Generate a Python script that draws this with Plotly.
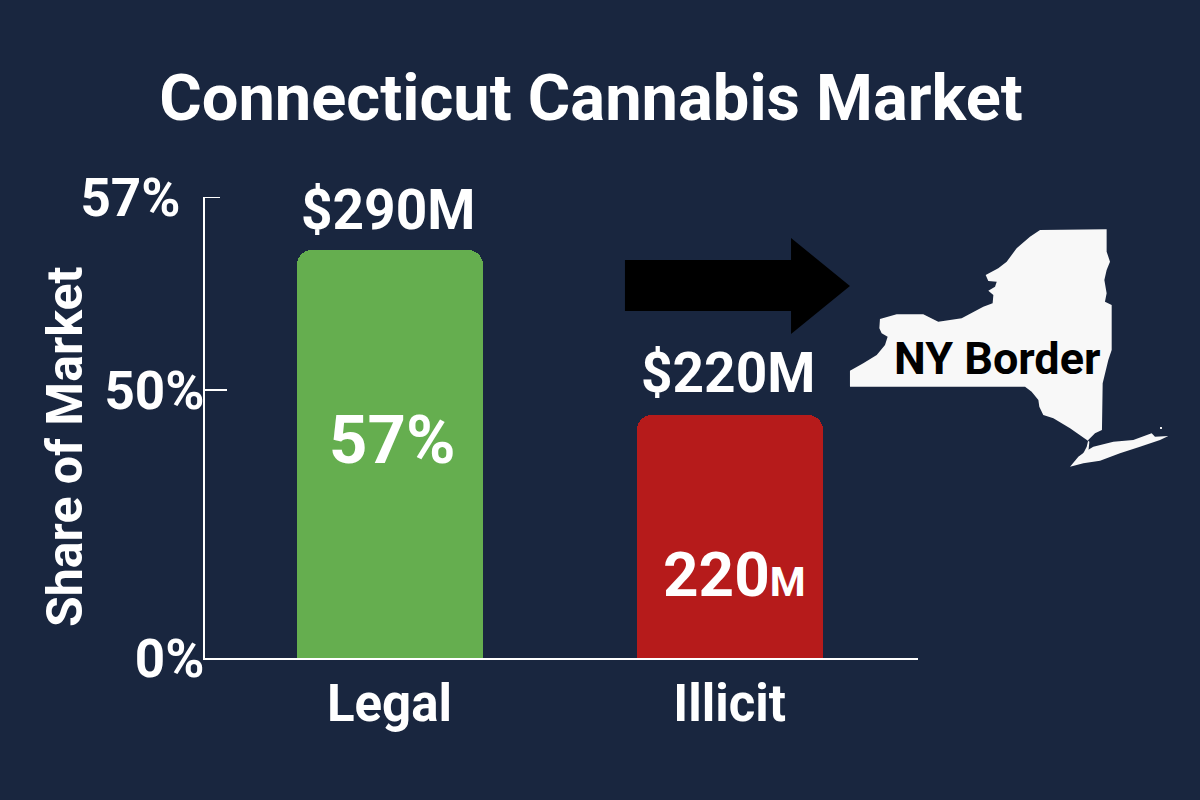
import plotly.graph_objects as go

categories = ['Legal', 'Illicit']
# the reference axis is not linear (57% sits far above 50%), so heights are in
# units where 50 lands on the "50%" tick and the top tick is drawn at 86
bar_heights = [76.1, 45.3]
bar_colors = ['#65AE4F', '#B61B1B']
top_labels = ['$290M', '$220M']
inner_labels = ['57%', '220<span style="font-size:41px">M</span>']
tick_vals = [0, 50, 86]
tick_text = ['0%', '50%', '57%\u00a0\u2009']

BG = '#19263F'
FONT = 'Roboto'


def px(x):
    return x / 1200


def py(y):
    return 1 - y / 800


def zoom_path(points):
    pts = [(px(840 + a / 3), py(220 + b / 3)) for a, b in points]
    return 'M ' + ' L '.join(f'{a:.4f},{b:.4f}' for a, b in pts) + ' Z'


ny_main = [(600, 30), (800, 28), (800, 95), (810, 125), (800, 150), (793, 180), (800, 220), (795, 245),
           (815, 255), (815, 390), (805, 420), (788, 490), (786, 630), (765, 640), (745, 660), (740, 680),
           (722, 715), (728, 728), (745, 700), (748, 665), (690, 625), (640, 595), (610, 585), (598, 560), (595, 540),
           (575, 515), (555, 500), (30, 500), (30, 452), (70, 430), (110, 405), (135, 375), (143, 350),
           (125, 340), (118, 325), (120, 297), (170, 283), (250, 283), (295, 305), (365, 295), (430, 260),
           (458, 250), (460, 225), (445, 212), (465, 200), (470, 185), (445, 183), (437, 165), (475, 145),
           (500, 125), (530, 85), (570, 50)]
ny_island = [(690, 740), (715, 710), (735, 695), (760, 680), (820, 665), (880, 660), (935, 640), (945, 650),
             (985, 648), (960, 660), (900, 680), (840, 700), (780, 722), (730, 730)]
ny_dot = [(960, 621), (966, 621), (966, 627), (960, 627)]
arrow = [(625, 260), (791, 260), (791, 238), (850, 286), (791, 334), (791, 311), (625, 311)]

fig = go.Figure()
fig.add_trace(go.Bar(x=categories, y=bar_heights, width=0.547, marker=dict(color=bar_colors, cornerradius=15, line=dict(width=0)),
                     hoverinfo='skip', showlegend=False))

shapes = [
    dict(type='path', xref='paper', yref='paper', line=dict(width=0), fillcolor='black',
         path='M ' + ' L '.join(f'{px(a):.4f},{py(b):.4f}' for a, b in arrow) + ' Z'),
    dict(type='path', xref='paper', yref='paper', line=dict(width=0), fillcolor='#F8F8F8', path=zoom_path(ny_main)),
    dict(type='path', xref='paper', yref='paper', line=dict(width=0), fillcolor='#F8F8F8', path=zoom_path(ny_island)),
    dict(type='path', xref='paper', yref='paper', line=dict(width=0), fillcolor='#F8F8F8', path=zoom_path(ny_dot)),
    dict(type='line', xref='paper', yref='y', x0=px(205), x1=px(220), y0=86, y1=86, line=dict(color='white', width=2)),
    dict(type='line', xref='paper', yref='y', x0=px(205), x1=px(227), y0=50, y1=50, line=dict(color='white', width=2)),
]

annotations = []
for cat, h, top, ys in zip(categories, bar_heights, top_labels, [40, 42]):
    annotations.append(dict(x=cat, y=h, text=top, yshift=ys, xshift=-2, showarrow=False,
                            font=dict(family=FONT, size=55, color='white', weight=700)))
annotations.append(dict(x='Legal', y=bar_heights[0], text=inner_labels[0], yshift=-190, xshift=2, showarrow=False,
                        font=dict(family=FONT, size=67, color='white', weight=700)))
annotations.append(dict(x='Illicit', y=bar_heights[1], text=inner_labels[1], yshift=-159, xshift=5, showarrow=False,
                        font=dict(family=FONT, size=62, color='white', weight=700)))
annotations.append(dict(xref='paper', yref='paper', x=px(65), y=py(447), xanchor='center', yanchor='middle',
                        text='Share of Market', textangle=-90,
                        showarrow=False, font=dict(family=FONT, size=50, color='white', weight=700)))
annotations.append(dict(xref='paper', yref='paper', x=px(997), y=py(358), xanchor='center', yanchor='middle',
                        text='NY Border',
                        showarrow=False, font=dict(family=FONT, size=45, color='black', weight=700)))

fig.update_layout(
    width=1200, height=800, margin=dict(l=0, r=0, t=0, b=0),
    paper_bgcolor=BG, plot_bgcolor=BG, bargap=0,
    title=dict(text='Connecticut Cannabis Market', x=0.4925, xanchor='center', y=py(97), yanchor='middle',
               font=dict(family=FONT, size=65, color='white', weight=700)),
    shapes=shapes, annotations=annotations, showlegend=False,
)
fig.update_xaxes(domain=[px(205), px(918)], range=[-0.5426, 1.554], showgrid=False, zeroline=False, showline=True,
                 linecolor='white', linewidth=2, ticks='', ticklabelstandoff=0, automargin=False,
                 tickfont=dict(family=FONT, size=51, color='white', weight=700))
fig.update_yaxes(domain=[py(658), py(197)], range=[0, 86], tickvals=tick_vals, ticktext=tick_text, showgrid=False,
                 zeroline=False, showline=True, linecolor='white', linewidth=2, ticks='', ticklabelstandoff=-12,
                 automargin=False, tickfont=dict(family=FONT, size=53, color='white', weight=700))

fig.write_html("out.html", config=dict(displayModeBar=False), post_script="document.body.style.margin='0';")
